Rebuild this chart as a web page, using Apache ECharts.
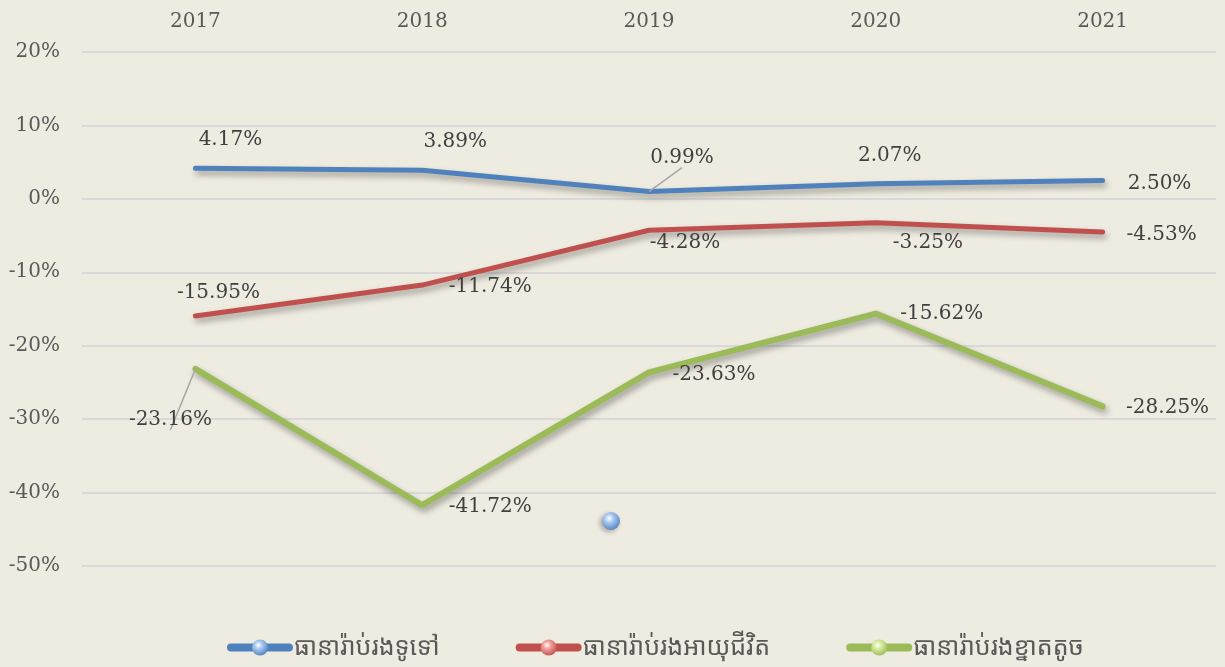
<!DOCTYPE html>
<html>
<head>
<meta charset="utf-8">
<script src="https://cdn.jsdelivr.net/npm/echarts@6/dist/echarts.min.js"></script>
<style>
  html, body { margin: 0; padding: 0; background: #eeebe1; }
  #chart { width: 1225px; height: 667px; }
</style>
</head>
<body>
<div id="chart"></div>
<script>
// data
const years = ['2017', '2018', '2019', '2020', '2021'];
const yTicks = [-50, -40, -30, -20, -10, 0, 10, 20];
const generalIns = [4.17, 3.89, 0.99, 2.07, 2.50];
const lifeIns = [-15.95, -11.74, -4.28, -3.25, -4.53];
const microIns = [-23.16, -41.72, -23.63, -15.62, -28.25];
const seriesNames = ['ធានារ៉ាប់រងទូទៅ', 'ធានារ៉ាប់រងអាយុជីវិត', 'ធានារ៉ាប់រងខ្នាតតូច'];

const FONT = '"DejaVu Serif", "Liberation Serif", serif';
const TXT = '#404040';

// label offsets per point [dx, dy]
const offsets = [
  [[35, -28], [33, -28], [33, -34], [14, -28], [57, 3]],
  [[23, -23], [68, 2], [36, 13], [52, 20], [59, 3]],
  [[-25, 51], [68, 2], [65, 2], [66, 0], [65, 2]]
];
const leader = [[false, false, true, false, false], [false, false, false, false, false], [true, false, false, false, false]];
const colors = ['#4f81bd', '#c0504d', '#9bbb59'];
const ballLight = ['#a9c8f0', '#f2a09c', '#d6ec9e'];

function ball(i) {
  return {
    type: 'radial', x: 0.4, y: 0.35, r: 0.7,
    colorStops: [
      { offset: 0, color: '#ffffff' },
      { offset: 0.35, color: ballLight[i] },
      { offset: 1, color: colors[i] }
    ]
  };
}

function makeSeries(name, values, i) {
  return {
    name: name,
    type: 'line',
    symbol: 'circle',
    symbolSize: 15,
    showSymbol: true,
    itemStyle: { color: ball(i) },
    lineStyle: {
      color: colors[i],
      width: i === 2 ? 6 : 5,
      cap: 'round',
      shadowColor: 'rgba(0,0,0,0.35)',
      shadowBlur: 6,
      shadowOffsetX: 2,
      shadowOffsetY: 4
    },
    emphasis: { disabled: true },
    data: values.map((v, k) => ({
      value: v,
      symbolSize: 0,
      label: { offset: offsets[i][k] },
      labelLine: { show: leader[i][k], lineStyle: { color: '#a6a6a6', width: 1.5 } }
    })),
    label: {
      show: true,
      position: 'inside',
      formatter: p => p.value.toFixed(2) + '%',
      color: TXT,
      fontFamily: FONT,
      fontSize: 20
    },
    labelLine: { show: false, smooth: false }
  };
}

const chart = echarts.init(document.getElementById('chart'));
chart.setOption({
  backgroundColor: '#eeebe1',
  animation: false,
  grid: { left: 82, right: 9, top: 52, bottom: 101 },
  legend: {
    bottom: 2,
    left: 222,
    itemWidth: 58,
    itemHeight: 20,
    itemGap: 76,
    textStyle: { color: '#595959', fontSize: 25, fontFamily: '"Noto Sans Khmer", "Khmer OS", "Noto Sans", sans-serif' },
    data: seriesNames.map(n => ({ name: n, lineStyle: { width: 8 } }))
  },
  xAxis: {
    type: 'category',
    position: 'top',
    data: years,
    axisLine: { show: false },
    axisTick: { show: false },
    axisLabel: { color: '#595959', fontFamily: FONT, fontSize: 20, margin: 20 }
  },
  yAxis: {
    type: 'value',
    min: yTicks[0],
    max: yTicks[yTicks.length - 1],
    interval: 10,
    axisLine: { show: false },
    axisTick: { show: false },
    splitLine: { lineStyle: { color: '#d9d9d9', width: 2 } },
    axisLabel: { color: '#595959', fontFamily: FONT, fontSize: 20, margin: 22, formatter: '{value}%' }
  },
  graphic: [{
    type: 'circle',
    shape: { cx: 611, cy: 521, r: 9 },
    style: { fill: ball(0), shadowColor: 'rgba(0,0,0,0.3)', shadowBlur: 5, shadowOffsetX: -2, shadowOffsetY: 2 }
  }],
  series: [
    makeSeries(seriesNames[0], generalIns, 0),
    makeSeries(seriesNames[1], lifeIns, 1),
    makeSeries(seriesNames[2], microIns, 2)
  ]
});
</script>
</body>
</html>
